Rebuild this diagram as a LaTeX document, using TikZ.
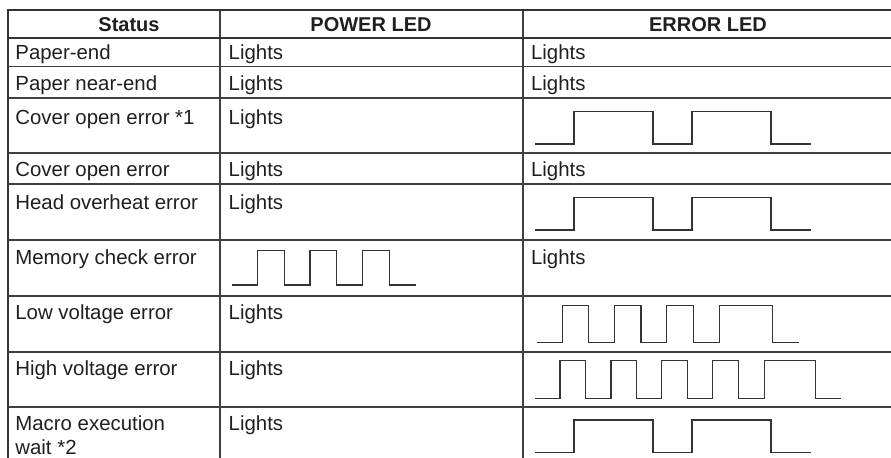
\documentclass[tikz,border=0pt]{standalone}
\usepackage{fontspec}
\setmainfont{Liberation Sans}

\begin{document}
\begin{tikzpicture}[
x=0.5pt, y=-0.5pt,
font=\fontsize{10.2}{12}\selectfont,
cell/.style={anchor=base west, inner sep=0pt, text=black!88, align=left},
head/.style={anchor=base, inner sep=0pt, font=\fontsize{10}{12}\selectfont\bfseries, text=black!88},
grid/.style={draw=black!75, line width=0.6pt},
border/.style={draw=black!80, line width=1pt},
wave/.style={draw=black!80, line width=0.7pt, line join=miter}
]
    \useasboundingbox (0,0) rectangle (891,458);

    % Draw grid
    \foreach \y in {66.5,98,153,184,240,296,352,407}
        \draw[grid] (7,\y) -- (891,\y);
    \draw[grid] (220,10) -- (220,458);
    \draw[grid] (523,10) -- (523,458);
    \draw[border] (7,10.3) -- (891,10.3);
    \draw[border] (7,37.7) -- (891,37.7);
    \draw[border] (7.8,9.3) -- (7.8,458);

    % Header
    \node[head] (status) at (129,31.7) {Status};
    \node[head] (power) at (371,31.7) {POWER LED};
    \node[head] (error) at (708,31.7) {ERROR LED};

    % Status column
    \foreach \n/\y/\s in {1/59.3/Paper-end, 2/90.7/Paper near-end,
        3/125/Cover open error *1, 4/176.7/Cover open error,
        5/209.3/Head overheat error, 6/265/Memory check error,
        7/320/Low voltage error, 8/376/High voltage error}
        \node[cell] (st\n) at (15,\y) {\s};
    \node[cell] (st9) at (15,455) {Macro execution\\wait *2};

    % POWER LED column
    \foreach \n/\y in {1/59.3, 2/90.7, 3/125, 4/176.7, 5/209.3, 7/320, 8/376, 9/431}
        \node[cell] (pw\n) at (228.3,\y) {Lights};

    % ERROR LED column
    \foreach \n/\y in {1/59.3, 2/90.7, 4/176.7, 6/265}
        \node[cell] (er\n) at (530.7,\y) {Lights};

    % Blinking patterns
    \draw[wave] (535,144) -- (574,144) -- (574,111.7) -- (653,111.7) -- (653,144)
        -- (692,144) -- (692,111.7) -- (771,111.7) -- (771,144) -- (811,144);
    \draw[wave] (535,230) -- (574,230) -- (574,197.7) -- (653,197.7) -- (653,230)
        -- (692,230) -- (692,197.7) -- (771,197.7) -- (771,230) -- (811,230);
    \draw[wave] (231.7,285) -- (257.7,285) -- (257.7,250.7) -- (284.3,250.7) -- (284.3,285)
        -- (310,285) -- (310,250.7) -- (336.7,250.7) -- (336.7,285)
        -- (362.7,285) -- (362.7,250.7) -- (389.3,250.7) -- (389.3,285) -- (415.7,285);
    \draw[wave] (536.7,342.3) -- (562.7,342.3) -- (562.7,305.7) -- (588.3,305.7) -- (588.3,342.3)
        -- (614.3,342.3) -- (614.3,305.7) -- (641,305.7) -- (641,342.3)
        -- (666.7,342.3) -- (666.7,305.7) -- (693.3,305.7) -- (693.3,342.3)
        -- (719.3,342.3) -- (719.3,305.7) -- (772.3,305.7) -- (772.3,342.3) -- (799,342.3);
    \draw[wave] (535,398.7) -- (560,398.7) -- (560,360.7) -- (585.7,360.7) -- (585.7,398.7)
        -- (611,398.7) -- (611,360.7) -- (636.7,360.7) -- (636.7,398.7)
        -- (661.7,398.7) -- (661.7,360.7) -- (687.3,360.7) -- (687.3,398.7)
        -- (712.7,398.7) -- (712.7,360.7) -- (738.3,360.7) -- (738.3,398.7)
        -- (764.3,398.7) -- (764.3,360.7) -- (815.7,360.7) -- (815.7,398.7) -- (840.7,398.7);
    \draw[wave] (535,452.3) -- (574,452.3) -- (574,420) -- (653,420) -- (653,452.3)
        -- (692,452.3) -- (692,420) -- (771,420) -- (771,452.3) -- (811,452.3);

\end{tikzpicture}
\end{document}
